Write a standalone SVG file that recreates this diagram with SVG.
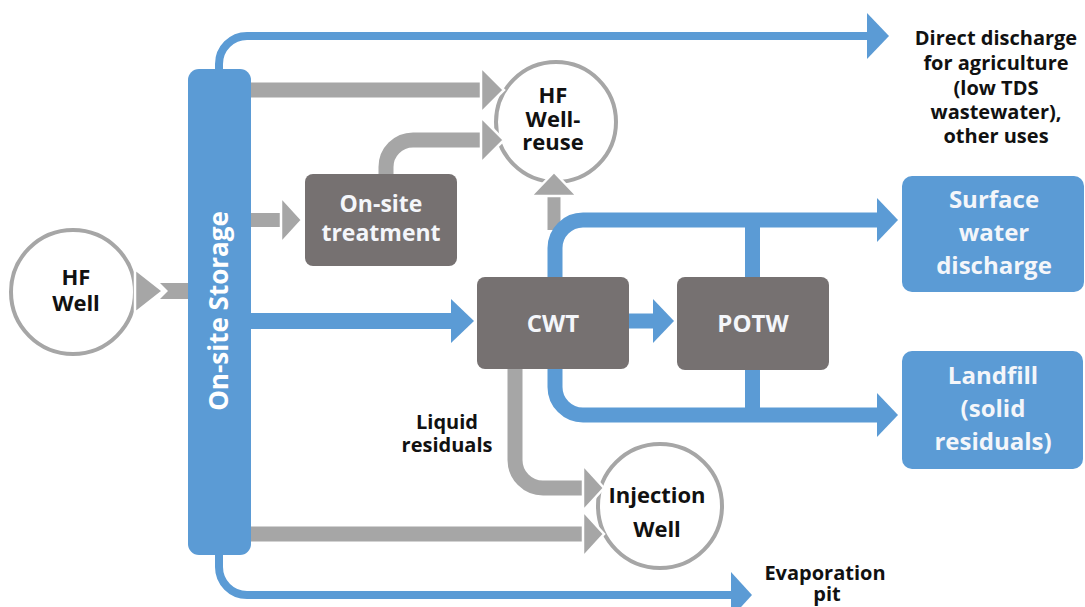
<svg xmlns="http://www.w3.org/2000/svg" width="1085" height="607" viewBox="0 0 1085 607">
<style>
.t{font-family:"Open Sans","Noto Sans","Liberation Sans",sans-serif;font-weight:700;text-anchor:middle}
.dk{fill:#111111}
.lt{fill:#f4f6fa}
.box{fill:#767171}
.bbox{fill:#5b9bd5}
.circ{fill:#ffffff;stroke:#a6a6a6;stroke-width:4}
.gl{fill:none;stroke:#a6a6a6}
.bl{fill:none;stroke:#5b9bd5}
.gh{fill:#a6a6a6;stroke:#ffffff;stroke-width:2.5;stroke-linejoin:miter}
.bh{fill:#5b9bd5}
</style>
<rect width="1085" height="607" fill="#ffffff"/>

<g id="hf-well">
<circle class="circ" cx="73" cy="292" r="62"/>
<text class="t dk" font-size="22"><tspan x="76" y="285">HF</tspan><tspan x="76" y="311">Well</tspan></text>
</g>

<g id="hf-well-reuse">
<circle class="circ" cx="556" cy="122" r="60"/>
<text class="t dk" font-size="22"><tspan x="553" y="103">HF</tspan><tspan x="553" y="127">Well-</tspan><tspan x="553" y="150">reuse</tspan></text>
</g>

<g id="injection-well">
<circle class="circ" cx="660" cy="506" r="62"/>
<text class="t dk" font-size="22"><tspan x="657" y="503">Injection</tspan><tspan x="657" y="537">Well</tspan></text>
</g>

<g id="connectors">
<polygon class="gh" points="135,269 163,291 135,313"/>
<polygon fill="#a6a6a6" points="160,283 190,283 190,299 160,299 168,291"/>
<path class="bl" stroke-width="8" d="M219 72 V64 A28 28 0 0 1 247 36 H870"/>
<polygon class="bh" points="867,13 889,36 867,59"/>
<path class="bl" stroke-width="8" d="M219 552 V567 A28 28 0 0 0 247 595 H733"/>
<polygon class="bh" points="731,572 752,595 731,618"/>
<path class="gl" stroke-width="15" d="M248 90 H484"/>
<polygon class="gh" points="481,67 504,90 481,113"/>
<path class="gl" stroke-width="15" d="M386 176 V167 A27 27 0 0 1 413 140 H484"/>
<polygon class="gh" points="481,117 504,140 481,163"/>
<path class="gl" stroke-width="14" d="M248 220 H284"/>
<polygon class="gh" points="281,197 302,220 281,243"/>
<path class="bl" stroke-width="16" d="M248 321 H454"/>
<polygon class="bh" points="451,299 474,321 451,343"/>
<path class="gl" stroke-width="13" d="M554 230 V192"/>
<polygon class="gh" points="531,196 554,172 577,196"/>
<path class="bl" stroke-width="15" d="M626 321 H656"/>
<polygon class="bh" points="653,299 674,321 653,343"/>
<path class="bl" stroke-width="15" d="M555 280 V248 A28 28 0 0 1 583 220 H880"/>
<path class="bl" stroke-width="15" d="M752.5 280 V220"/>
<polygon class="bh" points="877,198 898,220 877,242"/>
<path class="bl" stroke-width="15" d="M555 366 V387 A28 28 0 0 0 583 415 H880"/>
<path class="bl" stroke-width="15" d="M752.5 366 V415"/>
<polygon class="bh" points="877,393 898,415 877,437"/>
<path class="gl" stroke-width="15" d="M515 366 V460 A28 28 0 0 0 543 488 H586"/>
<polygon class="gh" points="583,465 604,488 583,511"/>
<path class="gl" stroke-width="15" d="M248 534 H586"/>
<polygon class="gh" points="583,511 604,534 583,557"/>
</g>

<g id="on-site-storage">
<rect class="bbox" x="188" y="69" width="63" height="486" rx="11"/>
<text class="t" fill="#ffffff" font-size="26" transform="translate(228 311) rotate(-90)">On-site Storage</text>
</g>

<g id="on-site-treatment">
<rect class="box" x="305" y="174" width="152" height="92" rx="8"/>
<text class="t lt" font-size="23"><tspan x="381" y="212">On-site</tspan><tspan x="381" y="241">treatment</tspan></text>
</g>

<g id="cwt">
<rect class="box" x="477" y="277" width="152" height="92" rx="8"/>
<text class="t lt" x="553" y="332" font-size="24">CWT</text>
</g>

<g id="potw">
<rect class="box" x="677" y="277" width="152" height="93" rx="8"/>
<text class="t lt" x="753" y="332" font-size="24">POTW</text>
</g>

<g id="surface-water-discharge">
<rect class="bbox" x="902" y="176" width="182" height="116" rx="10"/>
<text class="t lt" font-size="24"><tspan x="994" y="208">Surface</tspan><tspan x="994" y="241">water</tspan><tspan x="994" y="274">discharge</tspan></text>
</g>

<g id="landfill">
<rect class="bbox" x="902" y="351" width="181" height="118" rx="10"/>
<text class="t lt" font-size="24"><tspan x="993" y="384">Landfill</tspan><tspan x="993" y="417">(solid</tspan><tspan x="993" y="450">residuals)</tspan></text>
</g>

<g id="direct-discharge">
<text class="t dk" font-size="20"><tspan x="996" y="45">Direct discharge</tspan><tspan x="996" y="70">for agriculture</tspan><tspan x="996" y="95">(low TDS</tspan><tspan x="996" y="119">wastewater),</tspan><tspan x="996" y="143">other uses</tspan></text>
</g>

<g id="liquid-residuals">
<text class="t dk" font-size="20"><tspan x="447" y="429">Liquid</tspan><tspan x="447" y="452">residuals</tspan></text>
</g>

<g id="evaporation-pit">
<text class="t dk" font-size="20"><tspan x="825" y="580">Evaporation</tspan><tspan x="827" y="601">pit</tspan></text>
</g>
</svg>
